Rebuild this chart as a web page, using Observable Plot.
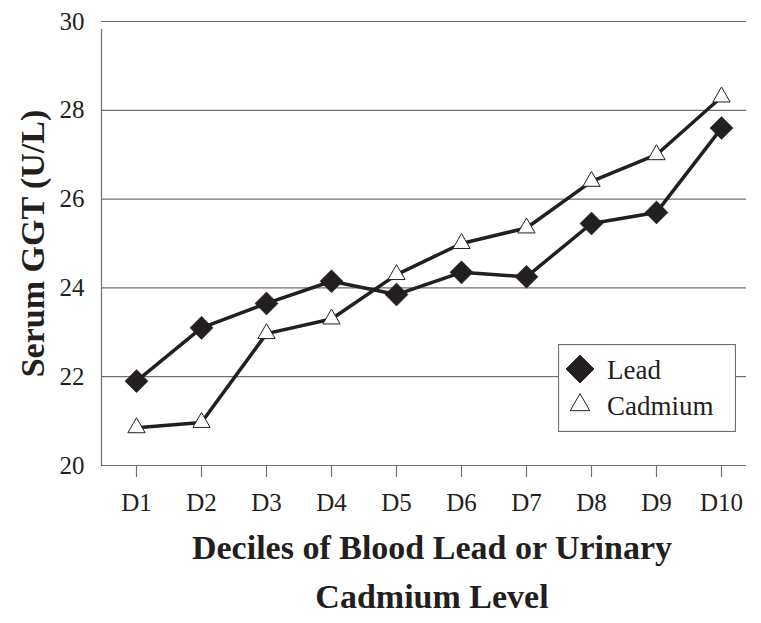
<!DOCTYPE html>
<html>
<head>
<meta charset="utf-8">
<script src="https://cdn.jsdelivr.net/npm/d3@7"></script>
<script src="https://cdn.jsdelivr.net/npm/@observablehq/plot@0.6"></script>
<style>
  html, body { margin: 0; padding: 0; background: #fff; }
  #chart { position: relative; width: 761px; height: 623px; }
  #legend { position: absolute; left: 558px; top: 344px; }
  #chart g[aria-label="x-axis tick label"], #chart g[aria-label="y-axis tick label"] { font-size: 25px; }
</style>
</head>
<body>
<div id="chart"></div>
<script>
const deciles = ["D1", "D2", "D3", "D4", "D5", "D6", "D7", "D8", "D9", "D10"];
const leadValues = [21.9, 23.1, 23.65, 24.15, 23.85, 24.35, 24.25, 25.45, 25.7, 27.6];
const cadmiumValues = [20.85, 20.97, 22.97, 23.3, 24.3, 25.0, 25.35, 26.4, 27.0, 28.3];
const yTicks = [20, 22, 24, 26, 28, 30];
const seriesNames = ["Lead", "Cadmium"];
const yTitle = "Serum GGT (U/L)";
const xTitle = "Deciles of Blood Lead or Urinary\nCadmium Level";

const ink = "#231f20";
const grid = "#707070";
const font = "'Liberation Serif', 'Times New Roman', serif";

const lead = deciles.map((d, i) => ({decile: d, value: leadValues[i]}));
const cadmium = deciles.map((d, i) => ({decile: d, value: cadmiumValues[i]}));

const plot = Plot.plot({
  width: 761,
  height: 623,
  marginTop: 21,
  marginBottom: 158,
  marginLeft: 101,
  marginRight: 15,
  style: {fontFamily: font, fontSize: "25px", color: ink, background: "#fff"},
  x: {type: "point", domain: deciles, padding: 0.4615, align: 0.583},
  y: {domain: [20, 30]},
  marks: [
    Plot.ruleY(yTicks.filter(t => t > 20), {stroke: grid, strokeWidth: 1.2}),
    Plot.ruleY([20], {stroke: grid, strokeWidth: 1.2}),
    Plot.frame({anchor: "left", insetTop: 8, stroke: grid, strokeWidth: 1.2}),
    Plot.axisX({tickSize: 12, tickPadding: 16, fontSize: 25, stroke: grid, strokeWidth: 1.2, fill: ink, label: null}),
    Plot.axisY({ticks: yTicks, tickSize: 0, tickPadding: 17, fontSize: 25, fill: ink, label: null}),
    Plot.line(lead, {x: "decile", y: "value", stroke: ink, strokeWidth: 3.5}),
    Plot.line(cadmium, {x: "decile", y: "value", stroke: ink, strokeWidth: 3.5}),
    Plot.dot(cadmium, {x: "decile", y: "value", symbol: "triangle", r: 6.4, fill: "white", stroke: ink, strokeWidth: 1}),
    Plot.dot(lead, {x: "decile", y: "value", symbol: "diamond2", r: 10.4, fill: ink, stroke: ink, strokeWidth: 0.5}),
    Plot.text([yTitle], {frameAnchor: "left", dx: -58, rotate: -90, textAnchor: "middle", lineAnchor: "bottom", fontSize: 34, fontWeight: "bold", fill: ink}),
    Plot.text([xTitle], {frameAnchor: "bottom", dx: 8, dy: 59, lineAnchor: "top", lineHeight: 1.43, fontSize: 34, fontWeight: "bold", fill: ink})
  ]
});
document.getElementById("chart").appendChild(plot);

// Legend box
const lg = d3.select("#chart").append("svg")
  .attr("id", "legend")
  .attr("width", 178).attr("height", 88)
  .style("font-family", font);
lg.append("rect").attr("x", 0.5).attr("y", 0.5).attr("width", 177).attr("height", 87)
  .attr("fill", "white").attr("stroke", grid).attr("stroke-width", 1.2);
const legendSymbols = [
  {name: seriesNames[0], path: d3.symbol(d3.symbolDiamond2, Math.PI * 12.5 * 12.5)(), fill: ink, cy: 25},
  {name: seriesNames[1], path: d3.symbol(d3.symbolTriangle, Math.PI * 7.3 * 7.3)(), fill: "white", cy: 61}
];
legendSymbols.forEach(s => {
  lg.append("path").attr("d", s.path).attr("transform", `translate(22,${s.cy})`)
    .attr("fill", s.fill).attr("stroke", ink).attr("stroke-width", 1);
  lg.append("text").attr("x", 49).attr("y", s.cy + 10).attr("font-size", 27).attr("fill", ink).text(s.name);
});
</script>
</body>
</html>
